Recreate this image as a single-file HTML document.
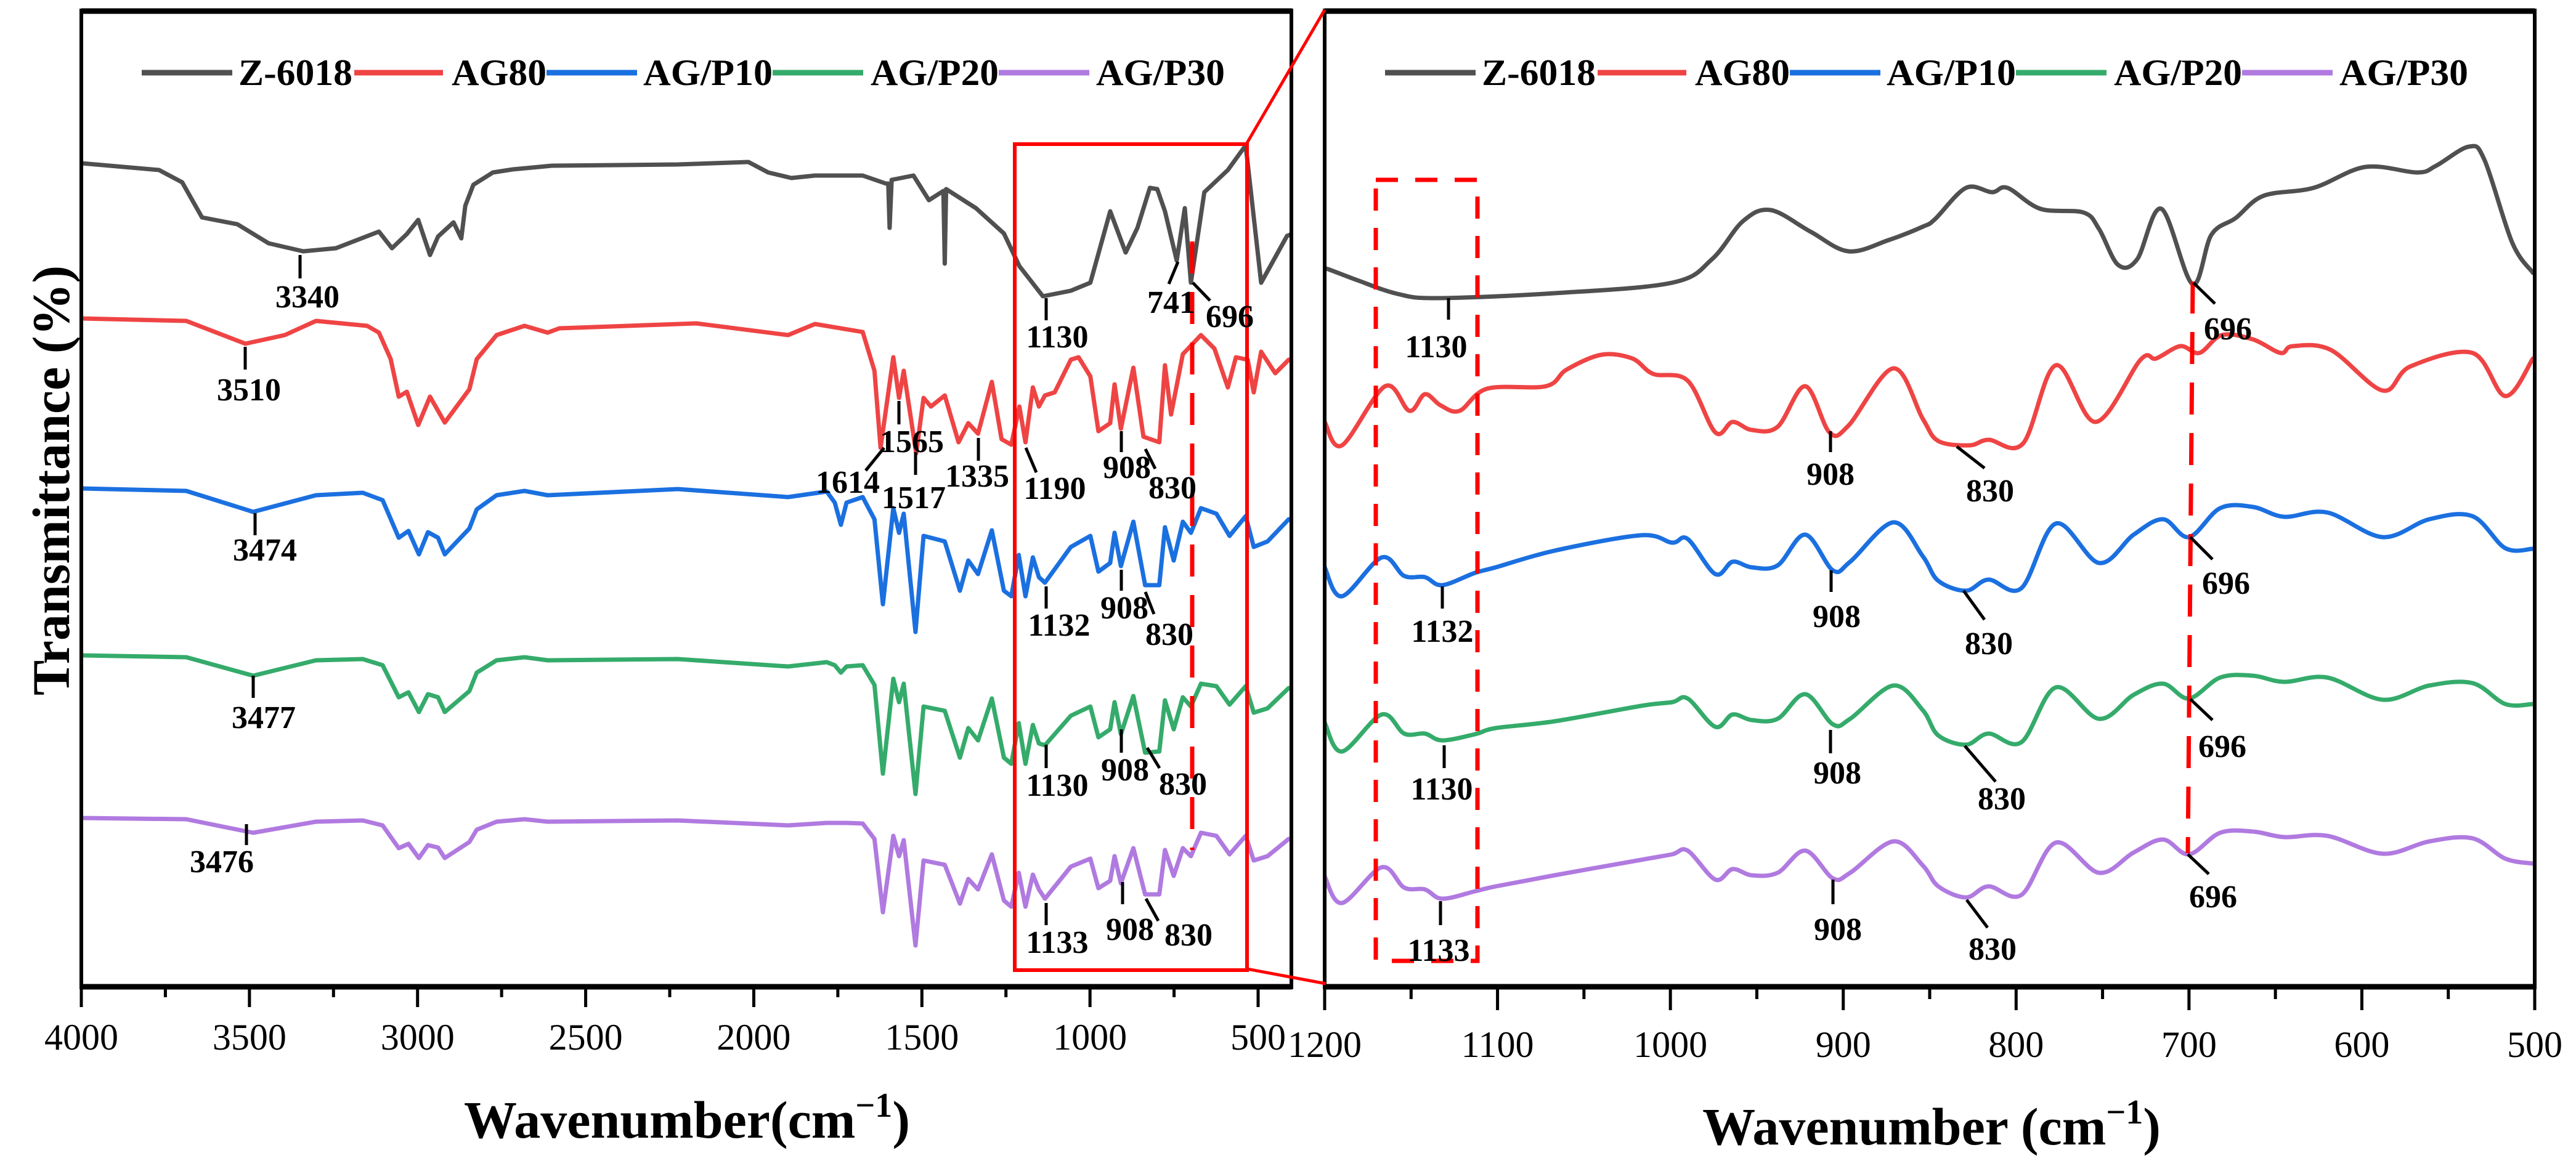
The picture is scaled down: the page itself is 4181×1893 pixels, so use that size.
<!DOCTYPE html>
<html><head><meta charset="utf-8"><style>
html,body{margin:0;padding:0;background:#fff;}
svg{display:block;font-family:"Liberation Serif",serif;}
.ann{font-weight:bold;font-size:52px;text-anchor:middle;}
.tk{font-size:60px;text-anchor:middle;}
</style></head><body>
<svg id="chart" width="4181" height="1893" viewBox="0 0 4181 1893" xmlns="http://www.w3.org/2000/svg">
<defs>
<clipPath id="clipL"><rect x="132" y="22" width="1963" height="1576"/></clipPath>
<clipPath id="clipR"><rect x="2152" y="22" width="1960" height="1576"/></clipPath>
</defs>
<g id="seriesL" clip-path="url(#clipL)"></g>
<g id="seriesR" clip-path="url(#clipR)"></g>

<!-- frames -->
<g stroke="#000" fill="none">
<line x1="132" y1="18" x2="2097" y2="18" stroke-width="9"/>
<line x1="132" y1="1602" x2="2097" y2="1602" stroke-width="9"/>
<line x1="132" y1="14" x2="132" y2="1606" stroke-width="6"/>
<line x1="2096" y1="14" x2="2096" y2="1606" stroke-width="6"/>
</g>
<g stroke="#000" fill="none">
<line x1="2150" y1="18" x2="4114" y2="18" stroke-width="9"/>
<line x1="2150" y1="1602" x2="4114" y2="1602" stroke-width="9"/>
<line x1="2150" y1="14" x2="2150" y2="1606" stroke-width="6"/>
<line x1="4114" y1="14" x2="4114" y2="1606" stroke-width="6"/>
</g>
<g id="axesL"></g>
<g id="axesR"></g>

<text x="1115" y="1847" font-size="86" font-weight="bold" text-anchor="middle">Wavenumber(cm<tspan font-size="56" dy="-34">−1</tspan><tspan dy="34">)</tspan></text>
<text x="3135" y="1858" font-size="86" font-weight="bold" text-anchor="middle">Wavenumber (cm<tspan font-size="56" dy="-34">−1</tspan><tspan dy="34">)</tspan></text>
<text transform="translate(112,780) rotate(-90)" font-size="86" font-weight="bold" text-anchor="middle">Transmittance (%)</text>

<!-- zoom indicators -->
<g fill="none" stroke="#ff0000">
<rect x="1647" y="234" width="377" height="1341" stroke-width="6"/>
<line x1="2024" y1="232" x2="2150" y2="16" stroke-width="5"/>
<line x1="2024" y1="1573" x2="2152" y2="1597" stroke-width="5"/>
</g>
<g fill="none" stroke="#ff0000" stroke-width="7">
<line x1="1935" y1="392" x2="1935" y2="1380" stroke-dasharray="52 30"/>
<rect x="2233" y="292" width="165" height="1268" stroke-dasharray="36 28"/>
<line x1="3559" y1="457" x2="3551" y2="1385" stroke-dasharray="52 30"/>
</g>

<!-- annotations -->
<g stroke="#000" stroke-width="5">
<line x1="487" y1="414" x2="487" y2="452"/>
<line x1="398" y1="563" x2="398" y2="600"/>
<line x1="414" y1="833" x2="414" y2="869"/>
<line x1="411" y1="1097" x2="411" y2="1133"/>
<line x1="400" y1="1338" x2="400" y2="1372"/>
<line x1="1698" y1="484" x2="1698" y2="520"/>
<line x1="1912" y1="425" x2="1897" y2="461"/>
<line x1="1936" y1="459" x2="1964" y2="488"/>
<line x1="1459" y1="651" x2="1459" y2="689"/>
<line x1="1435" y1="727" x2="1405" y2="764"/>
<line x1="1486" y1="734" x2="1486" y2="771"/>
<line x1="1588" y1="711" x2="1588" y2="748"/>
<line x1="1665" y1="727" x2="1682" y2="767"/>
<line x1="1820" y1="700" x2="1820" y2="734"/>
<line x1="1859" y1="729" x2="1875" y2="761"/>
<line x1="1698" y1="952" x2="1698" y2="988"/>
<line x1="1820" y1="925" x2="1820" y2="959"/>
<line x1="1859" y1="961" x2="1873" y2="997"/>
<line x1="1698" y1="1209" x2="1698" y2="1247"/>
<line x1="1820" y1="1184" x2="1820" y2="1222"/>
<line x1="1862" y1="1214" x2="1882" y2="1247"/>
<line x1="1698" y1="1466" x2="1698" y2="1502"/>
<line x1="1822" y1="1432" x2="1822" y2="1468"/>
<line x1="1860" y1="1459" x2="1880" y2="1495"/>
<line x1="2351" y1="484" x2="2351" y2="519"/>
<line x1="2971" y1="700" x2="2971" y2="734"/>
<line x1="2341" y1="952" x2="2341" y2="988"/>
<line x1="2972" y1="926" x2="2972" y2="961"/>
<line x1="2344" y1="1210" x2="2344" y2="1247"/>
<line x1="2971" y1="1185" x2="2971" y2="1223"/>
<line x1="2338" y1="1463" x2="2338" y2="1502"/>
<line x1="2975" y1="1428" x2="2975" y2="1468"/>
<line x1="3560" y1="459" x2="3595" y2="493"/>
<line x1="3176" y1="725" x2="3221" y2="760"/>
<line x1="3555" y1="872" x2="3591" y2="908"/>
<line x1="3187" y1="959" x2="3221" y2="1006"/>
<line x1="3555" y1="1135" x2="3591" y2="1169"/>
<line x1="3189" y1="1211" x2="3239" y2="1269"/>
<line x1="3551" y1="1387" x2="3585" y2="1419"/>
<line x1="3192" y1="1461" x2="3226" y2="1506"/>
</g>
<g class="ann">
<text class="ann" x="499" y="499">3340</text>
<text class="ann" x="404" y="650">3510</text>
<text class="ann" x="430" y="910">3474</text>
<text class="ann" x="428" y="1182">3477</text>
<text class="ann" x="360" y="1416">3476</text>
<text class="ann" x="1716" y="564">1130</text>
<text class="ann" x="1901" y="508">741</text>
<text class="ann" x="1996" y="531">696</text>
<text class="ann" x="1480" y="734">1565</text>
<text class="ann" x="1376" y="800">1614</text>
<text class="ann" x="1483" y="825">1517</text>
<text class="ann" x="1586" y="790">1335</text>
<text class="ann" x="1712" y="810">1190</text>
<text class="ann" x="1829" y="776">908</text>
<text class="ann" x="1903" y="809">830</text>
<text class="ann" x="1719" y="1032">1132</text>
<text class="ann" x="1825" y="1004">908</text>
<text class="ann" x="1898" y="1047">830</text>
<text class="ann" x="1716" y="1292">1130</text>
<text class="ann" x="1826" y="1267">908</text>
<text class="ann" x="1920" y="1290">830</text>
<text class="ann" x="1716" y="1547">1133</text>
<text class="ann" x="1834" y="1526">908</text>
<text class="ann" x="1929" y="1535">830</text>
<text class="ann" x="2331" y="580">1130</text>
<text class="ann" x="2971" y="787">908</text>
<text class="ann" x="2341" y="1042">1132</text>
<text class="ann" x="2981" y="1018">908</text>
<text class="ann" x="2340" y="1298">1130</text>
<text class="ann" x="2982" y="1272">908</text>
<text class="ann" x="2335" y="1560">1133</text>
<text class="ann" x="2983" y="1526">908</text>
<text class="ann" x="3616" y="551">696</text>
<text class="ann" x="3230" y="814">830</text>
<text class="ann" x="3613" y="964">696</text>
<text class="ann" x="3228" y="1062">830</text>
<text class="ann" x="3607" y="1229">696</text>
<text class="ann" x="3249" y="1314">830</text>
<text class="ann" x="3592" y="1473">696</text>
<text class="ann" x="3234" y="1558">830</text>
</g>
<g id="legendL"></g>
<g id="legendR"></g>
</svg>
<script>
// ---- data (transmittance, arbitrary units incl. stacking offset) ----
const seriesNames = ["Z-6018","AG80","AG/P10","AG/P20","AG/P30"];
const colors = ["#505050","#ef4444","#1b70e0","#35ab6b","#b07ae0"];

const wnZL = [4000,3769,3700,3641,3536,3443,3340,3243,3115,3076,3032,2998,2963,2939,2893,2870,2858,2834,2776,2717,2600,2226,2016,1957,1888,1818,1676,1607,1600,1596,1590,1525,1479,1436,1432,1428,1339,1256,1210,1140,1057,999,940,894,859,822,800,777,742,718,700,660,590,537,491,414,400];
const tZL  = [1337,1326,1306,1249,1238,1207,1194,1199,1226,1199,1222,1245,1188,1218,1241,1215,1268,1302,1322,1327,1333,1335,1339,1322,1313,1317,1317,1304,1304,1232,1310,1317,1277,1292,1174,1295,1264,1223,1170,1121,1130,1143,1259,1192,1232,1297,1295,1259,1179,1264,1143,1290,1326,1366,1143,1219,1222];

const wnAL = [4000,3688,3512,3395,3302,3150,3115,3080,3056,3032,2998,2963,2919,2846,2824,2765,2682,2613,2578,2171,1898,1818,1676,1641,1623,1585,1568,1554,1517,1495,1473,1432,1391,1362,1333,1292,1263,1234,1210,1192,1170,1152,1134,1105,1057,1034,999,975,940,927,908,871,841,794,777,759,724,670,630,590,566,531,513,491,449,409,400];
const tAL  = [1085,1081,1044,1058,1081,1073,1062,1019,958,966,912,958,916,970,1019,1058,1073,1062,1069,1077,1058,1076,1063,1000,875,1022,956,1000,866,956,942,960,884,915,898,982,889,880,942,884,973,942,960,965,1018,1022,991,902,915,978,906,1005,893,884,1009,929,1027,1058,1036,973,1022,1018,965,1031,996,1018,1018];

const wnBL = [4000,3688,3489,3302,3163,3104,3056,3027,2996,2969,2939,2919,2846,2824,2765,2682,2613,2226,1898,1783,1759,1741,1724,1676,1641,1616,1585,1568,1554,1519,1495,1432,1387,1362,1333,1292,1256,1234,1212,1192,1170,1152,1134,1057,999,975,940,927,908,871,836,794,777,751,724,700,670,624,585,537,513,472,409,400];
const tP10L = [809,805,771,798,802,790,729,740,702,738,729,702,744,775,798,805,798,808,795,804,786,750,786,795,759,621,777,737,768,576,732,723,643,692,670,741,643,634,701,634,697,665,656,714,732,674,688,737,683,755,652,652,746,692,755,737,777,768,732,764,714,723,759,759];
const tP20L = [538,535,505,530,532,522,470,478,446,475,470,446,480,510,530,535,530,532,520,527,522,510,520,522,490,346,500,462,492,313,455,448,372,420,400,468,372,362,428,362,425,395,392,440,455,405,418,462,410,472,380,382,465,418,470,455,492,488,458,488,445,452,485,485];
const tP30L = [274,272,250,268,270,262,225,232,209,230,226,209,235,255,268,272,268,270,262,266,266,266,266,265,240,121,245,212,238,67,205,198,135,175,158,215,140,130,185,130,182,158,143,195,208,160,172,212,168,225,150,150,222,180,225,212,250,245,215,245,205,212,240,240];

const wnZR = [1200,1198,1181,1158,1135,1067,999,976,958,942,919,897,874,854,847,829,814,805,786,761,752,741,730,716,698,687,673,657,628,598,568,557,538,529,513,501];
const tZR  = [1165,1165,1147,1125,1118,1126,1143,1181,1243,1261,1226,1194,1212,1234,1246,1297,1290,1297,1263,1257,1230,1172,1181,1263,1141,1221,1248,1284,1297,1331,1322,1333,1364,1342,1208,1159];

const wnAR = [1200,1190,1165,1151,1142,1133,1122,1106,1072,1060,1040,1022,1010,990,974,964,953,938,922,908,897,871,854,845,827,816,796,777,754,728,719,705,694,681,663,647,640,618,588,572,536,517,501];
const tAR  = [917,879,975,935,962,944,935,971,975,1002,1026,1020,995,984,900,917,904,909,975,900,911,1004,922,886,879,888,882,1009,917,1018,1020,1040,1029,1058,1051,1029,1040,1034,968,1007,1029,959,1020];

const wnPR = [1200,1190,1167,1154,1142,1132,1113,1101,1067,1017,999,990,974,964,953,938,922,906,896,871,854,845,829,816,797,777,752,732,715,700,682,663,645,620,588,561,536,517,501];
const tP10R = [681,634,697,667,665,652,672,681,708,733,721,727,670,690,681,684,734,676,690,754,699,659,643,661,647,752,688,734,759,730,777,779,763,770,730,759,764,712,711];
const tP20R = [429,382,442,411,411,400,410,420,431,456,462,468,422,442,433,435,475,426,435,489,449,408,393,411,397,486,435,474,492,468,502,505,495,502,466,489,493,459,459];
const tP30R = [179,136,194,161,158,143,155,163,181,206,215,221,174,191,181,185,221,176,185,236,197,163,145,163,149,234,185,218,239,215,250,252,243,245,216,236,241,208,200];

const ticksL = [4000,3500,3000,2500,2000,1500,1000,500];
const ticksR = [1200,1100,1000,900,800,700,600,500];

// ---- scales ----
const yTop = 18, yBot = 1602;
function yS(v){ return yBot - v*(yBot-yTop)/1584; }
function xL(w){ return 132 + (4000-w)*(2042-132)/3500; }
function xR(w){ return 2150 + (1200-w)*(4114-2150)/700; }
const NS = "http://www.w3.org/2000/svg";
function mk(tag, attrs, parent){ const e=document.createElementNS(NS,tag); for(const k in attrs) e.setAttribute(k,attrs[k]); parent.appendChild(e); return e; }

function linePath(wn, t, xf){ return wn.map((w,i)=>(i?"L":"M")+xf(w).toFixed(1)+","+yS(t[i]).toFixed(1)).join(""); }
function smoothPath(wn, t, xf){
  const p = wn.map((w,i)=>[xf(w), yS(t[i])]);
  let d = "M"+p[0][0].toFixed(1)+","+p[0][1].toFixed(1);
  for(let i=0;i<p.length-1;i++){
    const p0=p[Math.max(0,i-1)], p1=p[i], p2=p[i+1], p3=p[Math.min(p.length-1,i+2)];
    const c1=[p1[0]+(p2[0]-p0[0])/6, p1[1]+(p2[1]-p0[1])/6];
    const c2=[p2[0]-(p3[0]-p1[0])/6, p2[1]-(p3[1]-p1[1])/6];
    d+="C"+c1[0].toFixed(1)+","+c1[1].toFixed(1)+" "+c2[0].toFixed(1)+","+c2[1].toFixed(1)+" "+p2[0].toFixed(1)+","+p2[1].toFixed(1);
  }
  return d;
}

const gL = document.getElementById("seriesL");
const gR = document.getElementById("seriesR");
const leftSets = [[wnZL,tZL],[wnAL,tAL],[wnBL,tP10L],[wnBL,tP20L],[wnBL,tP30L]];
const rightSets = [[wnZR,tZR],[wnAR,tAR],[wnPR,tP10R],[wnPR,tP20R],[wnPR,tP30R]];
leftSets.forEach((s,i)=>{
  const p = mk("path",{d:linePath(s[0],s[1],xL),fill:"none",stroke:colors[i],"stroke-width":7,"stroke-linejoin":"round","stroke-linecap":"round"},gL);
  
  
});
rightSets.forEach((s,i)=>{
  const p = mk("path",{d:smoothPath(s[0],s[1],xR),fill:"none",stroke:colors[i],"stroke-width":7,"stroke-linejoin":"round","stroke-linecap":"round"},gR);
  
  
});

// ---- axes ----
function drawAxis(g, ticks, xf, step, majLen, minLen, labelY){
  for(let k=0;k<ticks.length;k++){
    const w=ticks[k], x=xf(w);
    const t = mk("line",{x1:x,y1:1602,x2:x,y2:1602+majLen,stroke:"#000","stroke-width":5},g);
    
    
    const lb = mk("text",{x:x,y:labelY,"class":"tk"},g);
    lb.textContent = w;
    
    
    if(k<ticks.length-1){
      const xm = xf(w - step/2);
      const m = mk("line",{x1:xm,y1:1602,x2:xm,y2:1602+minLen,stroke:"#000","stroke-width":5},g);
      
      
    }
  }
}
drawAxis(document.getElementById("axesL"), ticksL, xL, 500, 33, 17, 1704);
drawAxis(document.getElementById("axesR"), ticksR, xR, 100, 38, 20, 1716);

// ---- legends ----
function drawLegend(g, x0){
  const segs = [[0,147,157,185],[345,144,158,154],[657,147,157,210],[1024,147,159,208],[1391,147,158,209]];
  segs.forEach((s,i)=>{
    const ln = mk("line",{x1:x0+s[0],y1:118,x2:x0+s[0]+s[1],y2:118,stroke:colors[i],"stroke-width":9},g);
    
    
    const tx = mk("text",{x:x0+s[0]+s[2],y:138,"font-size":60,"font-weight":"bold",textLength:s[3],lengthAdjust:"spacingAndGlyphs"},g);
    tx.textContent = seriesNames[i];
    
    
  });
}
drawLegend(document.getElementById("legendL"), 230);
drawLegend(document.getElementById("legendR"), 2248);
</script>
</body></html>
